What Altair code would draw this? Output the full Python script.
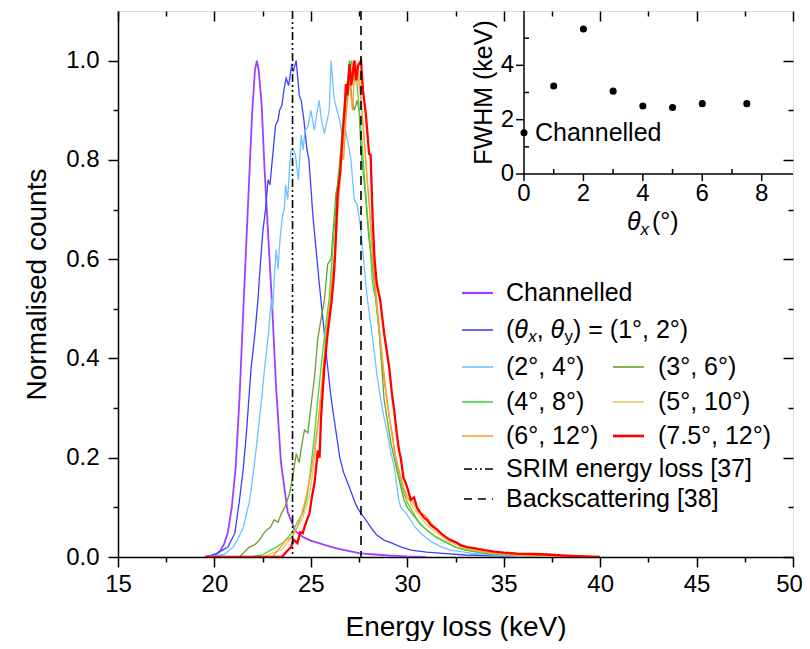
import altair as alt
import pandas as pd

# ---------------- data ----------------
channelled_E = [19.5, 20.0, 20.3, 20.5, 20.7, 20.9, 21.1, 21.3, 21.5, 21.65,
                21.8, 21.95, 22.1, 22.2, 22.3, 22.45, 22.6, 22.8, 23.0, 23.2,
                23.45, 23.8, 24.2, 24.6, 25.0, 25.5, 26.0, 26.5, 27.0, 27.5,
                28.0, 29.0, 30.0, 31.0]
channelled_y = [0, 0.003, 0.012, 0.026, 0.05, 0.1, 0.18, 0.32, 0.5, 0.63,
                0.76, 0.89, 0.98, 1.0, 0.98, 0.91, 0.78, 0.64, 0.5, 0.34,
                0.19, 0.09, 0.052, 0.04, 0.033, 0.027, 0.021, 0.016, 0.012, 0.008,
                0.006, 0.003, 0.001, 0.0]

a12_E = [19.5, 20.1, 20.7, 21.06, 21.3, 21.5, 21.66, 21.9, 22.1, 22.26,
         22.4, 22.52, 22.65, 22.78, 22.88, 23.0, 23.17, 23.3, 23.38, 23.5,
         23.6, 23.72, 23.85, 24.0, 24.1, 24.24, 24.4, 24.5, 24.64, 24.8,
         24.9, 25.1, 25.27, 25.44, 25.57, 25.7, 25.85, 26.05, 26.2, 26.35,
         26.5, 26.7, 26.9, 27.1, 27.24, 27.4, 27.6, 27.85, 28.1, 28.4,
         28.8, 29.2, 29.7, 30.2, 31.0, 32.0, 33.0, 35.0, 40.0]
a12_y = [0, 0.007, 0.02, 0.048, 0.115, 0.18, 0.25, 0.38, 0.45, 0.52,
         0.6, 0.66, 0.7, 0.76, 0.75, 0.8, 0.87, 0.88, 0.9, 0.91,
         0.94, 0.965, 0.95, 0.99, 0.98, 1.0, 0.93, 0.92, 0.88, 0.82,
         0.80, 0.69, 0.62, 0.55, 0.5, 0.45, 0.39, 0.32, 0.28, 0.24,
         0.2, 0.17, 0.15, 0.13, 0.115, 0.1, 0.088, 0.075, 0.06, 0.045,
         0.034, 0.028, 0.02, 0.014, 0.01, 0.007, 0.004, 0.002, 0.0]

a24_E = [19.5, 20.5, 20.97, 21.2, 21.5, 21.83, 22.05, 22.26, 22.45, 22.6,
         22.8, 22.95, 23.03, 23.1, 23.2, 23.3, 23.4, 23.52, 23.62, 23.69,
         23.8, 23.9, 23.98, 24.1, 24.2, 24.35, 24.5, 24.6, 24.7, 24.84,
         25.0, 25.18, 25.3, 25.43, 25.55, 25.7, 25.85, 25.95, 26.05, 26.2,
         26.35, 26.5, 26.65, 26.8, 26.95, 27.08, 27.25, 27.4, 27.6, 27.68,
         27.85, 27.94, 28.1, 28.28, 28.45, 28.63, 28.8, 28.97, 29.15, 29.32,
         29.56, 29.66, 29.9, 30.18, 30.4, 30.7, 31.0, 31.37, 31.8, 32.24,
         33.3, 34.5, 36.0, 40.0]
a24_y = [0, 0.005, 0.02, 0.035, 0.06, 0.115, 0.18, 0.25, 0.32, 0.38,
         0.45, 0.52, 0.5, 0.56, 0.62, 0.58, 0.64, 0.685, 0.7, 0.75,
         0.72, 0.79, 0.82, 0.82, 0.81, 0.76, 0.85, 0.82, 0.86, 0.866,
         0.9, 0.86, 0.89, 0.92, 0.88, 0.853, 0.88, 0.9, 1.0, 0.926,
         0.9, 0.88, 0.84, 0.86, 0.83, 0.80, 0.72, 0.71, 0.658, 0.62,
         0.55, 0.517, 0.47, 0.416, 0.36, 0.316, 0.28, 0.249, 0.21, 0.182,
         0.115, 0.1, 0.09, 0.074, 0.06, 0.048, 0.038, 0.028, 0.02, 0.014,
         0.008, 0.004, 0.001, 0.0]

a36_E = [19.5, 21.3, 21.8, 22.1, 22.34, 22.5, 22.7, 22.9, 23.1, 23.3,
         23.47, 23.65, 23.9, 24.05, 24.24, 24.4, 24.5, 24.67, 24.85, 25.0,
         25.19, 25.36, 25.53, 25.7, 25.87, 26.05, 26.3, 26.45, 26.56, 26.73,
         26.9, 27.0, 27.1, 27.25, 27.4, 27.5, 27.6, 27.85, 28.0, 28.2,
         28.42, 28.55, 28.8, 29.15, 29.5, 29.83, 30.0, 30.3, 30.7, 31.0,
         31.5, 32.0, 32.5, 33.0, 34.0, 35.0, 36.0, 38.0, 40.0]
a36_y = [0, 0.0, 0.02, 0.025, 0.034, 0.045, 0.054, 0.06, 0.075, 0.07,
         0.088, 0.1, 0.128, 0.16, 0.208, 0.19, 0.22, 0.256, 0.25, 0.302,
         0.363, 0.44, 0.48, 0.517, 0.59, 0.6, 0.732, 0.76, 0.805, 0.886,
         0.95, 1.0, 0.93, 0.9, 0.92, 0.9, 0.82, 0.72, 0.645, 0.584,
         0.5, 0.45, 0.316, 0.23, 0.168, 0.115, 0.1, 0.085, 0.065, 0.055,
         0.04, 0.03, 0.02, 0.014, 0.008, 0.005, 0.003, 0.001, 0.0]

a48_E = [19.5, 21.9, 22.5, 23.2, 23.6, 24.0, 24.3, 24.58, 24.8, 25.0,
         25.2, 25.36, 25.53, 25.8, 25.95, 26.1, 26.25, 26.4, 26.55, 26.7,
         26.85, 27.0, 27.1, 27.2, 27.3, 27.45, 27.6, 27.75, 27.94, 28.05,
         28.2, 28.37, 28.55, 28.71, 28.9, 29.06, 29.25, 29.4, 29.6, 29.83,
         30.0, 30.3, 30.6, 31.0, 31.5, 32.0, 32.5, 33.0, 34.0, 35.0,
         36.0, 38.0, 40.0]
a48_y = [0, 0.0, 0.005, 0.02, 0.03, 0.048, 0.07, 0.088, 0.12, 0.18,
         0.25, 0.316, 0.383, 0.477, 0.52, 0.6, 0.68, 0.76, 0.82, 0.9,
         0.95, 0.98, 1.0, 0.96, 0.99, 0.93, 0.86, 0.78, 0.685, 0.64,
         0.55, 0.517, 0.45, 0.383, 0.33, 0.282, 0.24, 0.195, 0.16, 0.128,
         0.11, 0.09, 0.07, 0.055, 0.04, 0.03, 0.02, 0.015, 0.008, 0.005,
         0.003, 0.001, 0.0]

a510_E = [19.5, 22.5, 23.5, 24.0, 24.3, 24.6, 24.9, 25.1, 25.3, 25.5,
          25.7, 25.9, 26.1, 26.3, 26.45, 26.6, 26.75, 26.9, 27.05, 27.2,
          27.35, 27.5, 27.65, 27.8, 28.0, 28.2, 28.4, 28.6, 28.8, 29.0,
          29.2, 29.4, 29.6, 29.8, 30.0, 30.3, 30.6, 31.0, 31.5, 32.0,
          32.5, 33.0, 34.0, 35.0, 36.0, 38.0, 40.0]
a510_y = [0, 0.0, 0.015, 0.04, 0.06, 0.08, 0.12, 0.17, 0.24, 0.32,
          0.4, 0.48, 0.55, 0.64, 0.72, 0.8, 0.86, 0.92, 0.97, 1.0,
          0.95, 0.98, 0.9, 0.82, 0.72, 0.62, 0.52, 0.44, 0.37, 0.3,
          0.25, 0.2, 0.17, 0.14, 0.12, 0.1, 0.085, 0.065, 0.05, 0.035,
          0.025, 0.018, 0.01, 0.006, 0.004, 0.002, 0.0]

a612_E = [19.5, 23.0, 23.72, 24.0, 24.3, 24.5, 24.75, 25.0, 25.2, 25.4,
          25.6, 25.8, 26.0, 26.2, 26.4, 26.56, 26.7, 26.85, 27.0, 27.16,
          27.3, 27.45, 27.6, 27.75, 27.9, 28.05, 28.2, 28.4, 28.6, 28.8,
          29.0, 29.2, 29.4, 29.6, 29.8, 30.0, 30.3, 30.6, 30.9, 31.2,
          31.5, 32.0, 32.5, 33.0, 34.0, 35.0, 36.0, 38.0, 40.0]
a612_y = [0, 0.0, 0.034, 0.04, 0.06, 0.083, 0.12, 0.168, 0.22, 0.28,
          0.36, 0.45, 0.52, 0.6, 0.72, 0.82, 0.8, 0.9, 0.96, 0.9,
          1.0, 0.97, 0.92, 0.85, 0.77, 0.7, 0.6, 0.52, 0.44, 0.36,
          0.3, 0.25, 0.2, 0.17, 0.14, 0.12, 0.11, 0.09, 0.085, 0.07,
          0.055, 0.04, 0.03, 0.02, 0.01, 0.006, 0.004, 0.002, 0.0]

a7512_E = [19.5, 23.5, 23.72, 23.98, 24.1, 24.3, 24.45, 24.58, 24.67, 24.8,
           24.93, 25.05, 25.19, 25.36, 25.45, 25.53, 25.7, 25.87, 26.08, 26.18,
           26.27, 26.39, 26.53, 26.65, 26.75, 26.82, 26.9, 27.0, 27.1, 27.25,
           27.35, 27.45, 27.6, 27.7, 27.85, 28.02, 28.1, 28.2, 28.3, 28.42,
           28.6, 28.8, 29.06, 29.2, 29.32, 29.45, 29.57, 29.66, 29.8, 29.92,
           30.0, 30.18, 30.35, 30.5, 30.7, 30.85, 31.04, 31.2, 31.38, 31.55,
           31.73, 32.0, 32.24, 32.5, 32.76, 33.1, 33.45, 34.0, 34.5, 35.0,
           35.7, 36.5, 37.2, 38.0, 38.5, 40.0]
a7512_y = [0, 0.0, 0.01, 0.02, 0.035, 0.028, 0.05, 0.048, 0.06, 0.075,
           0.088, 0.12, 0.149, 0.215, 0.2, 0.282, 0.383, 0.45, 0.517, 0.56,
           0.618, 0.732, 0.779, 0.853, 0.9, 0.953, 0.93, 0.993, 0.95, 1.0,
           0.96, 0.99, 1.0, 0.94, 0.893, 0.812, 0.81, 0.685, 0.6, 0.55,
           0.517, 0.45, 0.383, 0.33, 0.296, 0.25, 0.215, 0.2, 0.16, 0.149,
           0.14, 0.115, 0.12, 0.1, 0.088, 0.08, 0.074, 0.065, 0.06, 0.055,
           0.048, 0.04, 0.034, 0.03, 0.024, 0.02, 0.018, 0.014, 0.011, 0.009,
           0.007, 0.006, 0.005, 0.003, 0.002, 0.0]

srim_E = [24.05]
backscatter_E = [27.6]

inset_theta = [0, 1, 2, 3, 4, 5, 6, 7.5]
inset_fwhm = [1.52, 3.24, 5.34, 3.05, 2.5, 2.45, 2.59, 2.59]

x_major = [15, 20, 25, 30, 35, 40, 45, 50]
x_minor = [17.5, 22.5, 27.5, 32.5, 37.5, 42.5, 47.5]
y_major = [0.0, 0.2, 0.4, 0.6, 0.8, 1.0]
y_minor = [0.1, 0.3, 0.5, 0.7, 0.9]
inset_x_major = [0, 2, 4, 6, 8]
inset_x_minor = [1, 3, 5, 7]
inset_y_major = [0, 2, 4]
inset_y_minor = [1, 3, 5]

# ---------------- styling ----------------
FONT = "Liberation Sans"
W, H = 675, 546
series = [
    (channelled_E, channelled_y, "#A040FF", 1.8),
    (a12_E, a12_y, "#3F3FFF", 1.3),
    (a24_E, a24_y, "#6EC3FF", 1.3),
    (a36_E, a36_y, "#6B9E2C", 1.3),
    (a48_E, a48_y, "#3ADB3A", 1.3),
    (a510_E, a510_y, "#EFC260", 1.3),
    (a612_E, a612_y, "#FF9A2E", 1.3),
    (a7512_E, a7512_y, "#FF0000", 2.3),
]

x_main = alt.Scale(domain=[15, 50], nice=False, zero=False)
y_main = alt.Scale(domain=[0, 1.1], nice=False, zero=False)

ax_common = dict(grid=False, domainColor="black", tickColor="black",
                 domainWidth=1.5, tickWidth=1.5, labelColor="black",
                 labelFont=FONT, titleFont=FONT, titleColor="black",
                 titleFontWeight="normal")

x_axes = [
    alt.Axis(orient="bottom", values=x_major, tickSize=10, labelPadding=5,
             labelFontSize=24, format="d", labelFlush=False,
             labelOffset={"condition": {"test": "datum.value == 50", "value": -4}, "value": 0},
             title="Energy loss (keV)", titleFontSize=28, titlePadding=17,
             **ax_common),
    alt.Axis(orient="bottom", values=x_minor, tickSize=5, labels=False,
             domain=False, title=None, **ax_common),
    alt.Axis(orient="top", values=x_major, tickSize=10, offset=-10,
             labels=False, domain=False, title=None, **ax_common),
    alt.Axis(orient="top", values=x_minor, tickSize=5, offset=-5,
             labels=False, domain=False, title=None, **ax_common),
]
y_axes = [
    alt.Axis(orient="left", values=y_major, tickSize=10, labelPadding=9,
             labelFontSize=24, format=".1f", labelFlush=False,
             title="Normalised counts", titleFontSize=28, titlePadding=14,
             **ax_common),
    alt.Axis(orient="left", values=y_minor, tickSize=5, labels=False,
             domain=False, title=None, **ax_common),
    alt.Axis(orient="right", values=y_major, tickSize=10, offset=-10,
             labels=False, domain=False, title=None, **ax_common),
    alt.Axis(orient="right", values=y_minor, tickSize=5, offset=-5,
             labels=False, domain=False, title=None, **ax_common),
]

main_layers = []
for i, (E, Y, col, sw) in enumerate(series):
    xa = x_axes[i] if i < 4 else None
    ya = y_axes[i] if i < 4 else None
    df = pd.DataFrame({"E": E, "n": Y})
    main_layers.append(
        alt.Chart(df).mark_line(color=col, strokeWidth=sw, clip=True).encode(
            x=alt.X("E:Q", scale=x_main, axis=xa),
            y=alt.Y("n:Q", scale=y_main, axis=ya),
        )
    )

main_layers.append(
    alt.Chart(pd.DataFrame({"E": srim_E})).mark_rule(
        color="black", strokeWidth=1.6, strokeDash=[8, 3, 2, 3, 2, 3]
    ).encode(x=alt.X("E:Q", scale=x_main, axis=None))
)
main_layers.append(
    alt.Chart(pd.DataFrame({"E": backscatter_E})).mark_rule(
        color="black", strokeWidth=1.6, strokeDash=[9, 6]
    ).encode(x=alt.X("E:Q", scale=x_main, axis=None))
)

main = alt.layer(*main_layers).resolve_axis(x="independent", y="independent")

# ---------------- inset (own scales, axes drawn from tick lists) ----------------
IX0, IY0 = 406, 163
ixs = alt.Scale(domain=[0, 9.054], range=[IX0, W], nice=False, zero=False)
iys = alt.Scale(domain=[0, 6], range=[IY0, 0], nice=False, zero=False)
inset_df = pd.DataFrame({"t": inset_theta, "f": inset_fwhm})

pts = alt.Chart(inset_df).mark_circle(size=50, color="black", opacity=1).encode(
    x=alt.X("t:Q", scale=ixs, axis=None),
    y=alt.Y("f:Q", scale=iys, axis=None),
)
inset_lbl = alt.Chart(pd.DataFrame({"t": [0.37], "f": [1.52], "s": ["Channelled"]})).mark_text(
    align="left", baseline="middle", font=FONT, fontSize=25, color="black"
).encode(
    x=alt.X("t:Q", scale=ixs, axis=None),
    y=alt.Y("f:Q", scale=iys, axis=None),
    text="s:N",
)

ix_major_df = pd.DataFrame({"t": inset_x_major, "lab": [str(v) for v in inset_x_major]})
ix_minor_df = pd.DataFrame({"t": inset_x_minor})
iy_major_df = pd.DataFrame({"f": inset_y_major, "lab": [str(v) for v in inset_y_major]})
iy_minor_df = pd.DataFrame({"f": inset_y_minor})

ix_ticks = alt.Chart(ix_major_df).mark_rule(color="black", strokeWidth=1.5).encode(
    x=alt.X("t:Q", scale=ixs, axis=None), y=alt.value(IY0), y2=alt.value(IY0 + 7))
ix_mticks = alt.Chart(ix_minor_df).mark_rule(color="black", strokeWidth=1.5).encode(
    x=alt.X("t:Q", scale=ixs, axis=None), y=alt.value(IY0 - 5), y2=alt.value(IY0))
ix_labels = alt.Chart(ix_major_df).mark_text(
    baseline="top", align="center", font=FONT, fontSize=24, color="black").encode(
    x=alt.X("t:Q", scale=ixs, axis=None), y=alt.value(IY0 + 8), text="lab:N")
iy_ticks = alt.Chart(iy_major_df).mark_rule(color="black", strokeWidth=1.5).encode(
    y=alt.Y("f:Q", scale=iys, axis=None), x=alt.value(IX0 - 8), x2=alt.value(IX0))
iy_mticks = alt.Chart(iy_minor_df).mark_rule(color="black", strokeWidth=1.5).encode(
    y=alt.Y("f:Q", scale=iys, axis=None), x=alt.value(IX0), x2=alt.value(IX0 + 5))
iy_labels = alt.Chart(iy_major_df).mark_text(
    baseline="middle", align="right", font=FONT, fontSize=24, color="black").encode(
    y=alt.Y("f:Q", scale=iys, axis=None), x=alt.value(IX0 - 10), text="lab:N")

inset = alt.layer(pts, inset_lbl, ix_ticks, ix_mticks, ix_labels,
                  iy_ticks, iy_mticks, iy_labels)

# ---------------- hand-built legend, inset axis lines and titles ----------------
one = pd.DataFrame({"a": [0]})


def txt(s, x, y, size=25, italic=False, angle=None):
    kw = dict(align="left", baseline="middle", font=FONT, fontSize=size, color="black")
    if italic:
        kw["fontStyle"] = "italic"
    if angle is not None:
        kw["angle"] = angle
        kw["align"] = "center"
    return alt.Chart(one).mark_text(**kw).encode(
        x=alt.value(x), y=alt.value(y), text=alt.value(s))


def sample(x0, x1, y, col, sw, dash=None):
    kw = dict(color=col, strokeWidth=sw)
    if dash:
        kw["strokeDash"] = dash
    return alt.Chart(one).mark_rule(**kw).encode(
        x=alt.value(x0), x2=alt.value(x1), y=alt.value(y))


def vline(x, y0, y1, col="black", sw=1.5):
    return alt.Chart(one).mark_rule(color=col, strokeWidth=sw).encode(
        x=alt.value(x), y=alt.value(y0), y2=alt.value(y1))


L1, L2, T1, T2 = 344, 375, 388, 540
C2L1, C2L2 = 495, 526
rows = [282, 319, 356, 391, 425, 458, 488]
extra = []
# inset axis lines
extra.append(sample(IX0, W, IY0, "black", 1.5))
extra.append(vline(IX0, 0, IY0))
# inset titles
extra.append(txt("FWHM (keV)", 366, IY0 / 2, angle=270))
extra.append(txt("θ", 509, 211, italic=True))
extra.append(txt("x", 522.5, 219, size=17, italic=True))
extra.append(txt("(°)", 534, 211))
# legend
extra.append(sample(L1, L2, rows[0], series[0][2], 2.2))
extra.append(txt("Channelled", T1, rows[0]))
extra.append(sample(L1, L2, rows[1], series[1][2], 1.6))
extra.append(txt("(", T1, rows[1]))
extra.append(txt("θ", T1 + 8.3, rows[1], italic=True))
extra.append(txt("x", T1 + 22.2, rows[1] + 7, size=17, italic=True))
extra.append(txt(",", T1 + 30.7, rows[1]))
extra.append(txt("θ", T1 + 44.6, rows[1], italic=True))
extra.append(txt("y", T1 + 58.5, rows[1] + 7, size=17))
extra.append(txt(") = (1°, 2°)", T1 + 67, rows[1]))
extra.append(sample(L1, L2, rows[2], series[2][2], 1.6))
extra.append(txt("(2°, 4°)", T1, rows[2]))
extra.append(sample(C2L1, C2L2, rows[2], series[3][2], 1.6))
extra.append(txt("(3°, 6°)", T2, rows[2]))
extra.append(sample(L1, L2, rows[3], series[4][2], 1.6))
extra.append(txt("(4°, 8°)", T1, rows[3]))
extra.append(sample(C2L1, C2L2, rows[3], series[5][2], 1.6))
extra.append(txt("(5°, 10°)", T2, rows[3]))
extra.append(sample(L1, L2, rows[4], series[6][2], 1.6))
extra.append(txt("(6°, 12°)", T1, rows[4]))
extra.append(sample(C2L1, C2L2, rows[4], series[7][2], 2.6))
extra.append(txt("(7.5°, 12°)", T2, rows[4]))
extra.append(sample(L1 + 2, L2, rows[5], "black", 1.6, [8, 3, 2, 3, 2, 3]))
extra.append(txt("SRIM energy loss [37]", T1, rows[5]))
extra.append(sample(L1 + 2, L2, rows[6], "black", 1.6, [8, 6]))
extra.append(txt("Backscattering [38]", T1, rows[6]))

chart = alt.layer(main, inset, *extra).resolve_scale(
    x="independent", y="independent"
).properties(
    width=W, height=H,
    autosize=alt.AutoSizeParams(type="none"),
    padding={"left": 110, "top": 3, "right": 9, "bottom": 84},
).configure_view(stroke="black", strokeWidth=1.5).configure(background="white")

chart.save("out.html", embed_options={"renderer": "svg", "actions": False})
